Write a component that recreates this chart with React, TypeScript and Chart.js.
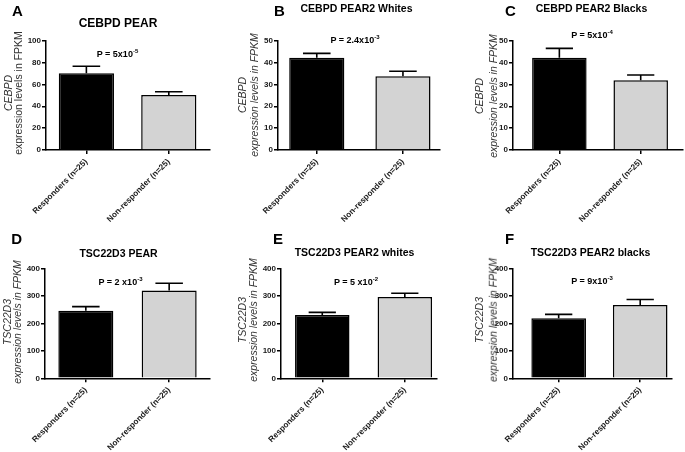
import React, { useEffect, useRef } from "react";
import { Chart, registerables } from "chart.js";

Chart.register(...registerables);

// ---------- data ----------
const categories = ["Responders (n=25)", "Non-responder (n=25)"];
const panelLetters = ["A", "B", "C", "D", "E", "F"];
const panelTitles = [
  "CEBPD PEAR",
  "CEBPD PEAR2 Whites",
  "CEBPD PEAR2 Blacks",
  "TSC22D3 PEAR",
  "TSC22D3 PEAR2 whites",
  "TSC22D3 PEAR2 blacks",
];
const geneNames = ["CEBPD", "CEBPD", "CEBPD", "TSC22D3", "TSC22D3", "TSC22D3"];
const yTitleUnit = "expression levels in FPKM";

const cebpdPearMean = [70.2, 50.3];
const cebpdPearSem = [6.4, 3.0];
const cebpdWhitesMean = [42.2, 33.7];
const cebpdWhitesSem = [2.0, 2.3];
const cebpdBlacksMean = [42.2, 31.9];
const cebpdBlacksSem = [4.3, 2.4];
const tscPearMean = [246, 319];
const tscPearSem = [14.6, 26.7];
const tscWhitesMean = [230, 296];
const tscWhitesSem = [9.7, 13.3];
const tscBlacksMean = [218, 267];
const tscBlacksSem = [14.5, 19.4];

const yMaxes = [100, 50, 50, 400, 400, 400];
const ySteps = [20, 10, 10, 100, 100, 100];
const pBase = ["P = 5x10", "P = 2.4x10", "P = 5x10", "P = 2 x10", "P = 5 x10", "P = 9x10"];
const pExponent = ["-5", "-3", "-4", "-3", "-2", "-3"];

const means = [cebpdPearMean, cebpdWhitesMean, cebpdBlacksMean, tscPearMean, tscWhitesMean, tscBlacksMean];
const sems = [cebpdPearSem, cebpdWhitesSem, cebpdBlacksSem, tscPearSem, tscWhitesSem, tscBlacksSem];

// ---------- layout (page pixels) ----------
type Layout = {
  box: { x: number; y: number; w: number; h: number };
  area: { L: number; R: number; T: number; B: number };
  xMin: number;
  xMax: number;
  barPct: number;
  letter: [number, number];
  title: [number, number, number];
  p: [number, number];
  yt: [number, number, number];
  line2Italic: boolean;
};

const layouts: Layout[] = [
  { box: { x: 0, y: 0, w: 228, h: 225 }, area: { L: 46, R: 210, T: 40.7, B: 150 }, xMin: -0.49, xMax: 1.5, barPct: 0.67, letter: [17.5, 9.5], title: [118, 23, 12], p: [117.5, 54], yt: [7.5, 18, 93], line2Italic: false },
  { box: { x: 228, y: 0, w: 228, h: 225 }, area: { L: 278, R: 440, T: 40.7, B: 150 }, xMin: -0.45, xMax: 1.43, barPct: 0.64, letter: [279.5, 9.5], title: [356.5, 7.5, 10.5], p: [355, 40], yt: [242, 254, 95], line2Italic: true },
  { box: { x: 456, y: 0, w: 229, h: 225 }, area: { L: 513, R: 683, T: 40.7, B: 150 }, xMin: -0.57, xMax: 1.52, barPct: 0.67, letter: [510.5, 10], title: [591.5, 7.5, 10.5], p: [592, 35], yt: [479, 492.5, 96], line2Italic: true },
  { box: { x: 0, y: 225, w: 228, h: 227 }, area: { L: 45, R: 210, T: 268.3, B: 378.3 }, xMin: -0.49, xMax: 1.49, barPct: 0.66, letter: [16.7, 238.3], title: [118.5, 252.5, 10.5], p: [120.5, 281.5], yt: [6.5, 17, 322], line2Italic: true },
  { box: { x: 228, y: 225, w: 228, h: 227 }, area: { L: 281, R: 437, T: 268.3, B: 378.3 }, xMin: -0.5, xMax: 1.39, barPct: 0.66, letter: [278, 237.5], title: [354.5, 251.7, 10.5], p: [356, 281.5], yt: [242, 253, 320], line2Italic: true },
  { box: { x: 456, y: 225, w: 229, h: 227 }, area: { L: 513, R: 672, T: 268.3, B: 378.3 }, xMin: -0.56, xMax: 1.39, barPct: 0.67, letter: [509.5, 237.5], title: [590.5, 251.7, 10.5], p: [592, 280.5], yt: [478.5, 492.5, 320], line2Italic: true },
];

const FONT = "'Liberation Sans', Arial, Helvetica, sans-serif";
const Y_AXIS_W = 26;

function Panel({ idx }: { idx: number }) {
  const ref = useRef<HTMLCanvasElement | null>(null);
  const L = layouts[idx];
  useEffect(() => {
    const canvas = ref.current;
    if (!canvas) return;
    const { box, area } = L;
    const xH = box.y + box.h - area.B - 1;
    const m = means[idx];
    const e = sems[idx];
    const errorBars = {
      id: "errorBars" + idx,
      afterDatasetsDraw(chart: any) {
        const ctx = chart.ctx;
        const meta = chart.getDatasetMeta(0);
        const ys = chart.scales.y;
        ctx.save();
        ctx.strokeStyle = "#000";
        ctx.lineWidth = 1.6;
        meta.data.forEach((bar: any, i: number) => {
          const top = ys.getPixelForValue(m[i] + e[i]);
          const half = bar.width / 4;
          ctx.beginPath();
          ctx.moveTo(bar.x, bar.y);
          ctx.lineTo(bar.x, top);
          ctx.moveTo(bar.x - half, top);
          ctx.lineTo(bar.x + half, top);
          ctx.stroke();
        });
        ctx.restore();
      },
    };
    const chart = new Chart(canvas, {
      type: "bar",
      data: {
        datasets: [
          {
            data: m.map((v, i) => ({ x: i, y: v })),
            backgroundColor: ["#000000", "#d3d3d3"],
            borderColor: "#000000",
            borderWidth: 1.5,
            categoryPercentage: 1,
            barPercentage: L.barPct,
          },
        ],
      },
      options: {
        animation: false,
        responsive: false,
        devicePixelRatio: 1,
        layout: {
          padding: {
            left: area.L - box.x - Y_AXIS_W,
            right: box.x + box.w - area.R,
            top: area.T - box.y,
            bottom: 1,
          },
        },
        plugins: { legend: { display: false }, tooltip: { enabled: false }, title: { display: false } },
        scales: {
          x: {
            type: "linear",
            offset: false,
            min: L.xMin,
            max: L.xMax,
            afterBuildTicks: (s: any) => {
              s.ticks = categories.map((_, i) => ({ value: i }));
            },
            afterFit: (s: any) => {
              s.height = xH;
            },
            ticks: {
              autoSkip: false,
              minRotation: 45,
              maxRotation: 45,
              padding: 3,
              color: "#1a1a1a",
              font: { family: FONT, size: 8.2, weight: "bold" },
              callback: (v: any) => categories[v as number],
            },
            grid: { offset: false, drawOnChartArea: false, drawTicks: true, tickLength: 4, color: "#000", lineWidth: 1.5 },
            border: { display: true, color: "#000", width: 1.5 },
          },
          y: {
            min: 0,
            max: yMaxes[idx],
            afterFit: (s: any) => {
              s.width = Y_AXIS_W;
            },
            ticks: {
              stepSize: ySteps[idx],
              padding: 1,
              color: "#1a1a1a",
              font: { family: FONT, size: 8, weight: "bold" },
            },
            grid: { drawOnChartArea: false, drawTicks: true, tickLength: 4, color: "#000", lineWidth: 1.5 },
            border: { display: true, color: "#000", width: 1.5 },
          },
        },
      },
      plugins: [errorBars],
    } as any);
    return () => chart.destroy();
  }, [idx]);
  const { box } = L;
  return (
    <canvas
      ref={ref}
      width={box.w}
      height={box.h}
      style={{ position: "absolute", left: box.x, top: box.y, width: box.w, height: box.h }}
    />
  );
}

const centered = (x: number, y: number, extra: React.CSSProperties = {}): React.CSSProperties => ({
  position: "absolute",
  left: x,
  top: y,
  transform: "translate(-50%, -50%)",
  whiteSpace: "nowrap",
  lineHeight: 1,
  fontFamily: FONT,
  color: "#000",
  ...extra,
});

export default function App() {
  return (
    <div style={{ position: "fixed", left: 0, top: 0, width: 685, height: 452, background: "#fff", overflow: "hidden" }}>
      {layouts.map((_, i) => (
        <Panel key={"c" + i} idx={i} />
      ))}
      {layouts.map((L, i) => (
        <React.Fragment key={"t" + i}>
          <div style={centered(L.letter[0], L.letter[1], { fontSize: 15, fontWeight: "bold" })}>{panelLetters[i]}</div>
          <div style={centered(L.title[0], L.title[1], { fontSize: L.title[2], fontWeight: "bold" })}>{panelTitles[i]}</div>
          <div style={centered(L.p[0], L.p[1], { fontSize: 9, fontWeight: "bold" })}>
            {pBase[i]}
            <span style={{ fontSize: 6, position: "relative", top: -4 }}>{pExponent[i]}</span>
          </div>
          <div style={centered(L.yt[0], L.yt[2], { fontSize: 10.5, fontStyle: "italic", color: "#333", transform: "translate(-50%, -50%) rotate(-90deg)" })}>
            {geneNames[i]}
          </div>
          <div style={centered(L.yt[1], L.yt[2], { fontSize: 10.5, fontStyle: L.line2Italic ? "italic" : "normal", color: "#333", transform: "translate(-50%, -50%) rotate(-90deg)" })}>
            {yTitleUnit}
          </div>
        </React.Fragment>
      ))}
    </div>
  );
}
